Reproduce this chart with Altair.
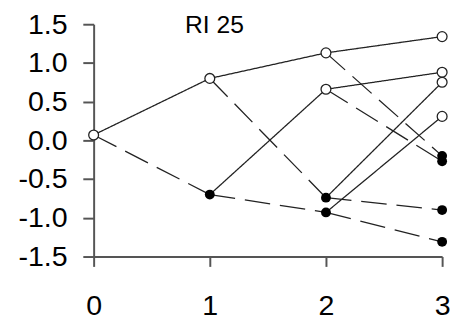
import altair as alt
import pandas as pd

# Node data (period, value, kind)
node_names = ["R", "U", "D", "UU", "DU", "UD", "DD",
              "UUU", "DUU", "UDU", "DDU", "UUD", "DUD", "UDD", "DDD"]
node_x = [0, 1, 1, 2, 2, 2, 2, 3, 3, 3, 3, 3, 3, 3, 3]
node_y = [0.07, 0.80, -0.70, 1.13, 0.66, -0.74, -0.93,
          1.34, 0.88, 0.75, 0.31, -0.20, -0.27, -0.90, -1.31]
node_kind = ["open", "open", "filled", "open", "open", "filled", "filled",
             "open", "open", "open", "open", "filled", "filled", "filled", "filled"]

# Edges (parent -> child, move type)
edge_from = ["R", "R", "U", "U", "D", "D",
             "UU", "UU", "DU", "DU", "UD", "UD", "DD", "DD"]
edge_to = ["U", "D", "UU", "UD", "DU", "DD",
           "UUU", "UUD", "DUU", "DUD", "UDU", "UDD", "DDU", "DDD"]
edge_move = ["up", "down", "up", "down", "up", "down",
             "up", "down", "up", "down", "up", "down", "up", "down"]

title_text = "RI 25"
title_x = 1.04
title_y = 1.49

y_ticks = [-1.5, -1.0, -0.5, 0.0, 0.5, 1.0, 1.5]
x_ticks = [0, 1, 2, 3]

nodes = pd.DataFrame({"name": node_names, "t": node_x, "v": node_y, "kind": node_kind})
pos = {n: (x, y) for n, x, y in zip(node_names, node_x, node_y)}
rows = []
for i, (a, b, m) in enumerate(zip(edge_from, edge_to, edge_move)):
    for n in (a, b):
        rows.append({"edge": i, "t": pos[n][0], "v": pos[n][1], "move": m})
edges = pd.DataFrame(rows)

xs = alt.Scale(domain=[0, 3], nice=False, zero=False)
ys = alt.Scale(domain=[-1.5, 1.5], nice=False, zero=False)

x_axis = alt.Axis(values=x_ticks, title=None, tickSize=10, labelPadding=26,
                  labelOverlap=False, labelExpr="format(datum.value, 'd')")
y_axis = alt.Axis(values=y_ticks, title=None, tickSize=11, labelPadding=16,
                  labelOverlap=False,
                  labelExpr="(datum.value < 0 ? '-' : '') + format(abs(datum.value), '.1f')")

X = alt.X("t:Q", scale=xs, axis=x_axis)
Y = alt.Y("v:Q", scale=ys, axis=y_axis)

lines = alt.Chart(edges).mark_line(color="#222", strokeWidth=1.3).encode(
    x=X, y=Y,
    detail="edge:N",
    strokeDash=alt.StrokeDash("move:N",
                              scale=alt.Scale(domain=["up", "down"], range=[[1, 0], [26, 10]]),
                              legend=None),
)

open_pts = alt.Chart(nodes).transform_filter("datum.kind == 'open'").mark_point(
    shape="circle", filled=True, fill="white", stroke="#222", strokeWidth=1.3, size=100, opacity=1
).encode(x=X, y=Y)

filled_pts = alt.Chart(nodes).transform_filter("datum.kind == 'filled'").mark_point(
    shape="circle", filled=True, color="#000", size=100, opacity=1
).encode(x=X, y=Y)

label = alt.Chart(pd.DataFrame({"t": [title_x], "v": [title_y], "txt": [title_text]})).mark_text(
    fontSize=25, font="Liberation Sans", color="#000", align="center", baseline="middle"
).encode(x=X, y=Y, text="txt:N")

chart = alt.layer(lines, open_pts, filled_pts, label).properties(
    width=354, height=236,
    autosize=alt.AutoSizeParams(type="none"),
    padding={"left": 87, "top": 14, "right": 8, "bottom": 63},
).configure_view(stroke=None).configure_axis(
    labelFontSize=29, labelFont="Liberation Sans", labelColor="#000",
    domainColor="#555", tickColor="#555", domainWidth=2, tickWidth=2,
    grid=False, labelFlush=False, labelOverlap=False,
)

chart.save("out.html", embed_options={"renderer": "svg", "actions": False})
